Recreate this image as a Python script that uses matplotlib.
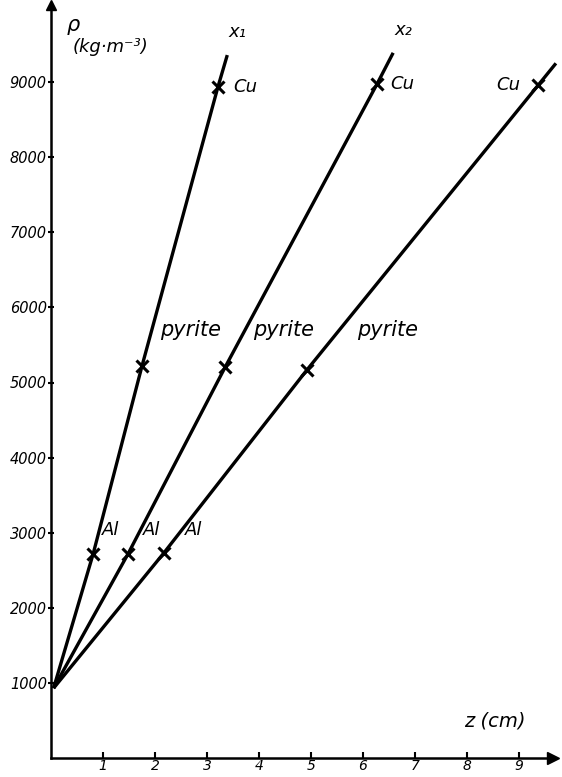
import matplotlib
matplotlib.use('Agg')
import matplotlib.pyplot as plt

# density gradient columns x1, x2, x3 : calibration beads
columns = ['x₁', 'x₂', 'x₃']
z_start = [0.05, 0.05, 0.05]
rho_start = [930, 930, 930]
z_al = [0.81, 1.48, 2.17]
rho_al = [2716, 2716, 2730]
z_pyrite = [1.75, 3.35, 4.92]
rho_pyrite = [5220, 5206, 5166]
z_cu = [3.21, 6.27, 9.37]
rho_cu = [8935, 8975, 8960]
z_top = [3.39, 6.58, 9.71]
rho_top = [9360, 9390, 9250]

z_ticks = [1, 2, 3, 4, 5, 6, 7, 8, 9]
rho_ticks = [1000, 2000, 3000, 4000, 5000, 6000, 7000, 8000, 9000]

W, H = 562, 777
fig = plt.figure(figsize=(W / 100, H / 100), dpi=100)
# axis origin at pixel (51, 758), 52 px per cm, 75.1 px per 1000 kg/m3
ax = fig.add_axes([51 / W, 19 / H, (553 - 51) / W, (772 - 19) / H])
ax.set_xlim(0, (553 - 51) / 52)
ax.set_ylim(0, (772 - 19) / 0.0751)

for s in ['top', 'right']:
    ax.spines[s].set_visible(False)
for s in ['left', 'bottom']:
    ax.spines[s].set_linewidth(1.8)

# arrow heads on the axes
ax.plot(1, 0, '>k', ms=8, transform=ax.get_yaxis_transform(), clip_on=False)
ax.plot(0, 1, '^k', ms=7, transform=ax.get_xaxis_transform(), clip_on=False)

hand = dict(fontstyle='italic', family='DejaVu Sans')

ax.set_xticks(z_ticks)
ax.set_xticklabels([str(t) for t in z_ticks], fontsize=10, **hand)
ax.set_yticks(rho_ticks)
ax.set_yticklabels([str(t) for t in rho_ticks], fontsize=10.5, **hand)
ax.tick_params(axis='x', direction='in', length=4, width=1.5, pad=1)
ax.tick_params(axis='y', direction='inout', length=4, width=1.5, pad=1)

for i in range(3):
    zs = [z_start[i], z_al[i], z_pyrite[i], z_cu[i], z_top[i]]
    rs = [rho_start[i], rho_al[i], rho_pyrite[i], rho_cu[i], rho_top[i]]
    ax.plot(zs, rs, color='black', lw=2.4, solid_capstyle='butt', clip_on=False)
    ax.plot([z_al[i], z_pyrite[i], z_cu[i]], [rho_al[i], rho_pyrite[i], rho_cu[i]],
            'x', color='black', ms=8, mew=2.2, clip_on=False)
    ax.annotate(columns[i], (z_top[i], rho_top[i]), xytext=(10, 18),
                textcoords='offset pixels', fontsize=13, ha='center', **hand)

al_off = [(9, 24), (15, 24), (21, 23)]
py_off = [(18, 36), (28, 37), (50, 40)]
cu_off = [(15, 0), (13, 0), (-18, 0)]
for i in range(3):
    ax.annotate('Al', (z_al[i], rho_al[i]), xytext=al_off[i], textcoords='offset pixels',
                fontsize=13, ha='left', va='center', **hand)
    ax.annotate('pyrite', (z_pyrite[i], rho_pyrite[i]), xytext=py_off[i],
                textcoords='offset pixels', fontsize=15, ha='left', va='center', **hand)
    ax.annotate('Cu', (z_cu[i], rho_cu[i]), xytext=cu_off[i], textcoords='offset pixels',
                fontsize=13, ha='left' if cu_off[i][0] > 0 else 'right', va='center', **hand)

fig.text(73 / W, 1 - 25 / H, 'ρ', fontsize=15, ha='center', va='center', **hand)
fig.text(110 / W, 1 - 47 / H, '(kg·m⁻³)', fontsize=13, ha='center', va='center', **hand)
fig.text(495 / W, 1 - 721 / H, 'z (cm)', fontsize=14, ha='center', va='center', **hand)

fig.savefig('out.png', dpi=100, facecolor='white')
